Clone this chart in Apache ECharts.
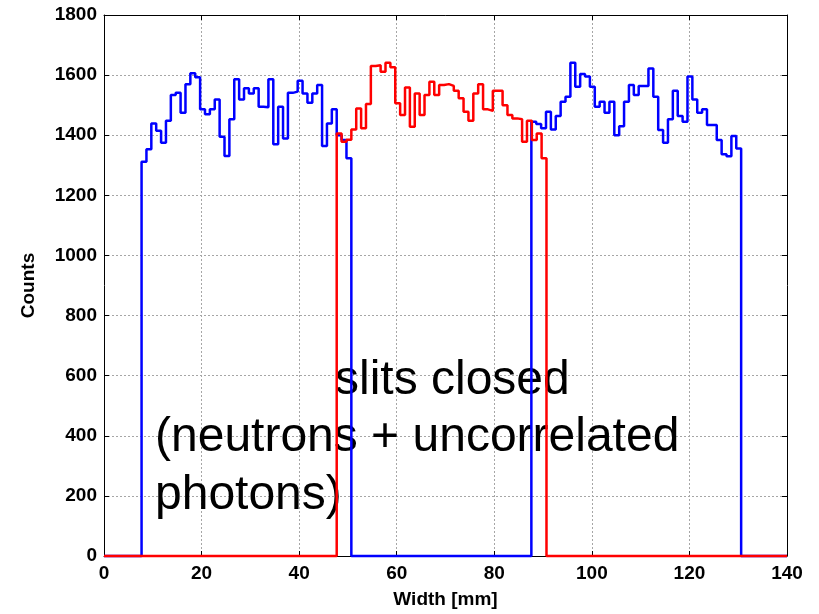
<!DOCTYPE html>
<html>
<head>
<meta charset="utf-8">
<script src="https://cdn.jsdelivr.net/npm/echarts@6/dist/echarts.min.js"></script>
<style>
html,body{margin:0;padding:0;background:#fff;}
#chart{width:819px;height:614px;}
</style>
</head>
<body>
<div id="chart"></div>
<script>
// ---- data ----
const binWidth = 1;          // mm
const blueLeftStart = 7.7;   // mm, left edge of first bin
const redStart = 47.7;
const blueRightStart = 87.6;
const xTicks = [0, 20, 40, 60, 80, 100, 120, 140];
const yTicks = [0, 200, 400, 600, 800, 1000, 1200, 1400, 1600, 1800];

const blueLeft = [1312, 1353, 1439, 1415, 1375, 1448, 1534, 1541, 1475, 1570, 1606, 1593, 1486, 1470, 1486, 1519, 1395, 1331, 1453, 1586, 1519, 1556, 1539, 1556, 1495, 1493, 1586, 1370, 1495, 1389, 1541, 1545, 1581, 1539, 1508, 1539, 1567, 1364, 1439, 1486, 1400, 1384, 1323];
const red = [1406, 1378, 1385, 1419, 1489, 1423, 1504, 1630, 1633, 1611, 1641, 1626, 1506, 1467, 1559, 1428, 1539, 1467, 1534, 1578, 1534, 1567, 1570, 1564, 1548, 1523, 1478, 1448, 1539, 1570, 1486, 1481, 1548, 1548, 1500, 1467, 1456, 1453, 1378, 1448, 1384, 1406, 1323];
const blueRight = [1445, 1437, 1423, 1478, 1419, 1464, 1511, 1528, 1641, 1561, 1604, 1595, 1561, 1495, 1511, 1475, 1511, 1400, 1430, 1511, 1567, 1534, 1564, 1564, 1622, 1528, 1417, 1375, 1453, 1548, 1464, 1445, 1595, 1519, 1475, 1486, 1434, 1434, 1384, 1337, 1330, 1397, 1356];

const annotation1 = 'slits closed';
const annotation2 = '(neutrons + uncorrelated';
const annotation3 = 'photons)';

// ---- build step points ----
function segment(start, vals) {
  const pts = [];
  vals.forEach((v, i) => pts.push([start + i * binWidth, v]));
  pts.push([start + vals.length * binWidth, 0]);
  return pts;
}
const xMin = xTicks[0], xMax = xTicks[xTicks.length - 1];
const bluePts = [[xMin, 0]].concat(segment(blueLeftStart, blueLeft), segment(blueRightStart, blueRight), [[xMax, 0]]);
const redPts = [[xMin, 0]].concat(segment(redStart, red), [[xMax, 0]]);

const FONT = "'Liberation Sans', Arial, Helvetica, sans-serif";
const chart = echarts.init(document.getElementById('chart'));
const gridLine = {show: true, lineStyle: {color: '#a6a6a6', width: 1, type: [2, 2]}};
const axisLine = {show: true, onZero: false, lineStyle: {color: '#000', width: 1}};
const tick = {show: true, inside: true, length: 5, lineStyle: {color: '#000'}};
const plain = v => String(v);

chart.setOption({
  animation: false,
  backgroundColor: '#fff',
  grid: {left: 104, right: 32, top: 15, bottom: 58},
  xAxis: [{
    type: 'value', min: xMin, max: xMax, interval: xTicks[1] - xTicks[0],
    name: 'Width [mm]', nameLocation: 'middle', nameGap: 34,
    nameTextStyle: {fontFamily: FONT, fontWeight: 'bold', fontSize: 19, color: '#000'},
    axisLine: axisLine, axisTick: tick, splitLine: gridLine,
    axisLabel: {fontFamily: FONT, fontWeight: 'bold', fontSize: 19, color: '#000', margin: 8, formatter: plain}
  }, {
    type: 'value', position: 'top', min: xMin, max: xMax, interval: xTicks[1] - xTicks[0],
    axisLine: axisLine, axisTick: tick, splitLine: {show: false}, axisLabel: {show: false}
  }],
  yAxis: [{
    type: 'value', min: yTicks[0], max: yTicks[yTicks.length - 1], interval: yTicks[1] - yTicks[0],
    name: 'Counts', nameLocation: 'middle', nameGap: 66,
    nameTextStyle: {fontFamily: FONT, fontWeight: 'bold', fontSize: 19, color: '#000'},
    axisLine: axisLine, axisTick: tick, splitLine: gridLine,
    axisLabel: {fontFamily: FONT, fontWeight: 'bold', fontSize: 19, color: '#000', margin: 7, formatter: plain}
  }, {
    type: 'value', position: 'right', min: yTicks[0], max: yTicks[yTicks.length - 1], interval: yTicks[1] - yTicks[0],
    axisLine: axisLine, axisTick: tick, splitLine: {show: false}, axisLabel: {show: false}
  }],
  graphic: [
    {type: 'text', z: 1, left: 335, top: 357, style: {text: annotation1, font: '48px ' + FONT, fill: '#000'}},
    {type: 'text', z: 1, left: 155, top: 414, style: {text: annotation2, font: '48px ' + FONT, fill: '#000'}},
    {type: 'text', z: 1, left: 155, top: 472, style: {text: annotation3, font: '48px ' + FONT, fill: '#000'}}
  ],
  series: [{
    type: 'line', step: 'end', data: bluePts, showSymbol: false, clip: false, z: 3,
    lineStyle: {color: '#0000ff', width: 2.5}
  }, {
    type: 'line', step: 'end', data: redPts, showSymbol: false, clip: false, z: 4,
    lineStyle: {color: '#ff0000', width: 2.5}
  }]
});
</script>
</body>
</html>
